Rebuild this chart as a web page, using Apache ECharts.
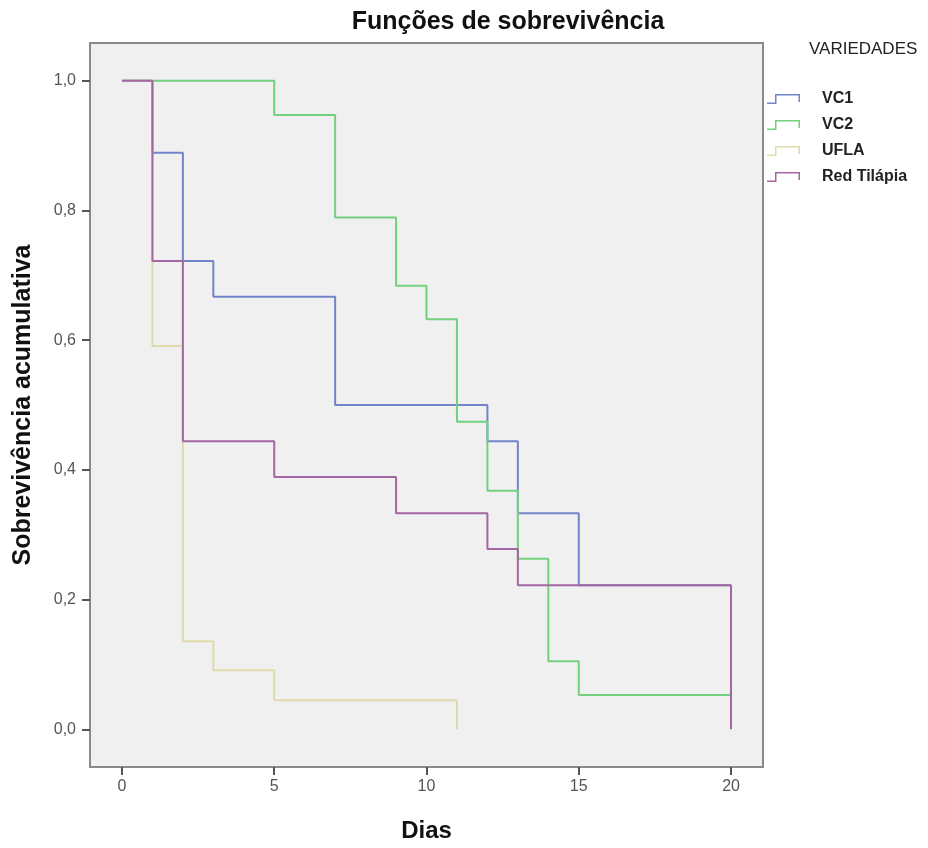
<!DOCTYPE html>
<html>
<head>
<meta charset="utf-8">
<title>Funções de sobrevivência</title>
<script src="https://cdn.jsdelivr.net/npm/echarts@6/dist/echarts.min.js"></script>
<style>
  html, body { margin: 0; padding: 0; background: #fff; }
  #chart { width: 928px; height: 848px; }
</style>
</head>
<body>
<div id="chart"></div>
<script>
// valores (Kaplan-Meier)
const vc1Dias = [0, 1, 2, 3, 7, 12, 13, 15, 20]
const vc1Sobrev = [1.0, 0.889, 0.722, 0.667, 0.5, 0.444, 0.333, 0.222, 0.222]

const vc2Dias = [0, 5, 7, 9, 10, 11, 12, 13, 14, 15, 20]
const vc2Sobrev = [1.0, 0.947, 0.789, 0.684, 0.632, 0.474, 0.368, 0.263, 0.105, 0.053, 0.053]

const uflaDias = [0, 1, 2, 3, 5, 11]
const uflaSobrev = [1.0, 0.591, 0.136, 0.091, 0.045, 0.0]

const redDias = [0, 1, 2, 5, 9, 12, 13, 20]
const redSobrev = [1.0, 0.722, 0.444, 0.389, 0.333, 0.278, 0.222, 0.0]

const xTicks = [0, 5, 10, 15, 20]
const yTicks = [0, 0.2, 0.4, 0.6, 0.8, 1.0]

const variedades = ['VC1', 'VC2', 'UFLA', 'Red Tilápia']
const cores = ['#7384c9', '#72d07f', '#e0dbaa', '#a366a3']

function pares(xs, ys) {
  return xs.map((x, i) => [x, ys[i]])
}

const stepIcon = 'path://M0,8.5 L8,8.5 L8,0 L33,0 L33,8 L31.5,8 L31.5,1.5 L9.5,1.5 L9.5,10 L0,10 Z'

const chart = echarts.init(document.getElementById('chart'))

const serieBase = (name, data, color) => ({
  name: name,
  type: 'line',
  step: 'end',
  data: data,
  showSymbol: false,
  symbol: 'none',
  color: color,
  lineStyle: { color: color, width: 2 },
  animation: false
})

chart.setOption({
  backgroundColor: '#ffffff',
  title: [
    {
      text: 'Funções de sobrevivência',
      left: 503,
      top: 5,
      textAlign: 'center',
      textStyle: {
        fontFamily: 'Liberation Sans, Arial, sans-serif',
        fontSize: 25,
        fontWeight: 'bold',
        color: '#111'
      }
    },
    {
      text: 'VARIEDADES',
      left: 804,
      top: 36,
      textStyle: {
        fontFamily: 'Liberation Sans, Arial, sans-serif',
        fontSize: 17,
        fontWeight: 'normal',
        color: '#222'
      }
    }
  ],
  legend: {
    data: variedades,
    orient: 'vertical',
    left: 762,
    top: 86,
    itemWidth: 33,
    itemHeight: 10,
    itemGap: 10,
    icon: stepIcon,
    textStyle: {
      fontFamily: 'Liberation Sans, Arial, sans-serif',
      fontSize: 16,
      fontWeight: 'bold',
      color: '#222',
      padding: [0, 0, 0, 17]
    }
  },
  grid: {
    left: 90,
    right: 165,
    top: 43,
    bottom: 81,
    show: true,
    backgroundColor: '#f0f0f0',
    borderColor: '#8a8a8a',
    borderWidth: 2
  },
  xAxis: {
    type: 'value',
    min: -1.05,
    max: 21.05,
    name: 'Dias',
    nameLocation: 'middle',
    nameGap: 52,
    nameTextStyle: {
      fontFamily: 'Liberation Sans, Arial, sans-serif',
      fontSize: 24,
      fontWeight: 'bold',
      color: '#111'
    },
    splitLine: { show: false },
    axisLine: { show: false, onZero: false },
    axisTick: {
      show: true,
      inside: false,
      length: 8,
      customValues: xTicks,
      lineStyle: { color: '#555', width: 2 }
    },
    axisLabel: {
      customValues: xTicks,
      margin: 12,
      fontFamily: 'Liberation Sans, Arial, sans-serif',
      fontSize: 16,
      color: '#555'
    }
  },
  yAxis: {
    type: 'value',
    min: -0.058,
    max: 1.058,
    name: 'Sobrevivência acumulativa',
    nameLocation: 'middle',
    nameGap: 54,
    nameTextStyle: {
      fontFamily: 'Liberation Sans, Arial, sans-serif',
      fontSize: 25,
      fontWeight: 'bold',
      color: '#111'
    },
    splitLine: { show: false },
    axisLine: { show: false, onZero: false },
    axisTick: {
      show: true,
      inside: false,
      length: 8,
      customValues: yTicks,
      lineStyle: { color: '#555', width: 2 }
    },
    axisLabel: {
      customValues: yTicks,
      margin: 14,
      fontFamily: 'Liberation Sans, Arial, sans-serif',
      fontSize: 16,
      color: '#555',
      formatter: v => v.toFixed(1).replace('.', ',')
    }
  },
  series: [
    serieBase('VC1', pares(vc1Dias, vc1Sobrev), cores[0]),
    serieBase('VC2', pares(vc2Dias, vc2Sobrev), cores[1]),
    serieBase('UFLA', pares(uflaDias, uflaSobrev), cores[2]),
    serieBase('Red Tilápia', pares(redDias, redSobrev), cores[3])
  ]
})
</script>
</body>
</html>
